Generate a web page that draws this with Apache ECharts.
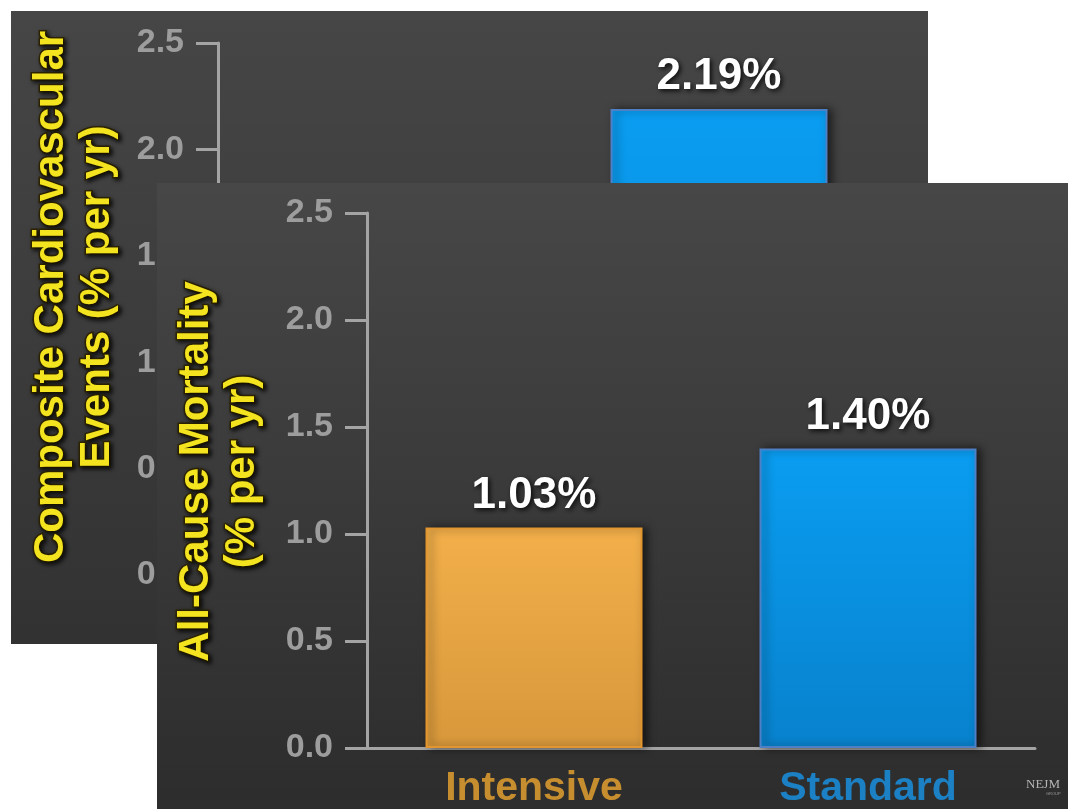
<!DOCTYPE html>
<html>
<head>
<meta charset="utf-8">
<title>SPRINT outcomes</title>
<script src="https://cdn.jsdelivr.net/npm/echarts@6/dist/echarts.min.js"></script>
<style>
  html, body { margin: 0; padding: 0; background: #ffffff; }
  #chart { width: 1068px; height: 809px; }
</style>
</head>
<body>
<div id="chart"></div>
<script>
// Treatment groups
const groups = ['Intensive', 'Standard'];
// Composite cardiovascular events (% per yr) — intensive bar not yet revealed on this slide
const compositeEvents = [null, 2.19];
// All-cause mortality (% per yr)
const allCauseMortality = [1.03, 1.40];
// Y-axis range and step (% per yr)
const yMin = 0, yMax = 2.5, yStep = 0.5;

const FONT = '"Liberation Sans", Arial, Helvetica, sans-serif';
const AXIS_GREY = '#a4a4a4';
const groupLabelColors = ['#c78e2f', '#1c80c4'];

const chart = echarts.init(document.getElementById('chart'), null, { renderer: 'canvas' });

function vGrad(top, bottom) {
  return new echarts.graphic.LinearGradient(0, 0, 0, 1, [
    { offset: 0, color: top }, { offset: 1, color: bottom }
  ]);
}

const barFills = [
  { fill: vGrad('#f2af4a', '#d8983b'), border: '#e3952f' },
  { fill: vGrad('#0a9df1', '#0882cd'), border: '#4f80c6' }
];

// Yellow outlined axis title; extra left padding nudges the rotated text upward
function titleStyle(shift) {
  return {
    color: '#f4e420',
    fontFamily: FONT,
    fontWeight: 'bold',
    fontSize: 42,
    lineHeight: 46,
    padding: [0, 0, 0, shift],
    textBorderColor: '#2e2400',
    textBorderWidth: 3,
    textShadowColor: 'rgba(0,0,0,0.7)',
    textShadowBlur: 4,
    textShadowOffsetX: 2,
    textShadowOffsetY: 2
  };
}

function yAxisFor(gridIndex, title, z, gap, shift) {
  return {
    type: 'value', gridIndex: gridIndex, z: z,
    min: yMin, max: yMax, interval: yStep,
    name: title, nameLocation: 'middle', nameGap: gap, nameRotate: 90,
    nameTextStyle: titleStyle(shift),
    axisLine: { show: true, lineStyle: { color: AXIS_GREY, width: 3 } },
    axisTick: { show: true, inside: false, length: 22, lineStyle: { color: AXIS_GREY, width: 3 } },
    axisLabel: {
      margin: 34, color: '#9d9d9d', fontFamily: FONT, fontWeight: 'bold', fontSize: 34,
      formatter: v => v.toFixed(1)
    },
    splitLine: { show: false }
  };
}

function xAxisFor(gridIndex, z) {
  return {
    type: 'category', gridIndex: gridIndex, z: z,
    data: groups,
    axisLine: { show: true, lineStyle: { color: AXIS_GREY, width: 3 } },
    axisTick: { show: false },
    axisLabel: {
      interval: 0, hideOverlap: false,
      margin: 20,
      formatter: (val, idx) => '{g' + idx + '|' + val + '}',
      rich: {
        g0: { color: groupLabelColors[0], fontFamily: FONT, fontWeight: 'bold', fontSize: 41 },
        g1: { color: groupLabelColors[1], fontFamily: FONT, fontWeight: 'bold', fontSize: 41 }
      }
    }
  };
}

function barSeries(axisIndex, values, z) {
  return {
    type: 'bar', xAxisIndex: axisIndex, yAxisIndex: axisIndex, z: z,
    barWidth: 217,
    data: values.map((v, i) => ({
      value: v,
      itemStyle: {
        color: barFills[i].fill,
        borderColor: barFills[i].border,
        borderWidth: 2,
        shadowColor: 'rgba(0,0,0,0.55)',
        shadowBlur: 8,
        shadowOffsetX: 4,
        shadowOffsetY: 0
      }
    })),
    label: {
      show: true, position: 'top', distance: 10,
      formatter: p => p.value.toFixed(2) + '%',
      color: '#ffffff', fontFamily: FONT, fontWeight: 'bold', fontSize: 44,
      textShadowColor: 'rgba(0,0,0,0.85)', textShadowBlur: 5,
      textShadowOffsetX: 2, textShadowOffsetY: 2
    },
    animation: false
  };
}

chart.setOption({
  animation: false,
  backgroundColor: '#ffffff',
  graphic: [
    // back slide panel
    { type: 'rect', z: 0, shape: { x: 11, y: 11, width: 917, height: 633 },
      style: { fill: vGrad('#464646', '#323232') } },
    // front slide panel
    { type: 'rect', z: 3, shape: { x: 157, y: 183, width: 920, height: 640 },
      style: { fill: vGrad('#474747', '#2c2c2c') } },
    // publisher mark
    { type: 'text', z: 20, left: 1026, top: 778,
      style: { text: 'NEJM', fill: '#b4b4b4', font: '13px "Liberation Serif", "DejaVu Serif", serif' } },
    { type: 'text', z: 20, left: 1046, top: 792,
      style: { text: 'GROUP', fill: '#9a9a9a', font: '4px "Liberation Sans", sans-serif' } }
  ],
  grid: [
    { left: 218, top: 43, width: 668, height: 532 },
    { left: 367, top: 213, width: 668, height: 535 }
  ],
  xAxis: [xAxisFor(0, 1), xAxisFor(1, 6)],
  yAxis: [
    yAxisFor(0, 'Composite Cardiovascular\nEvents (% per yr)', 1, 98, 24),
    yAxisFor(1, 'All-Cause Mortality\n(% per yr)', 6, 102, 18)
  ],
  series: [
    barSeries(0, compositeEvents, 1),
    barSeries(1, allCauseMortality, 7)
  ]
});
</script>
</body>
</html>
